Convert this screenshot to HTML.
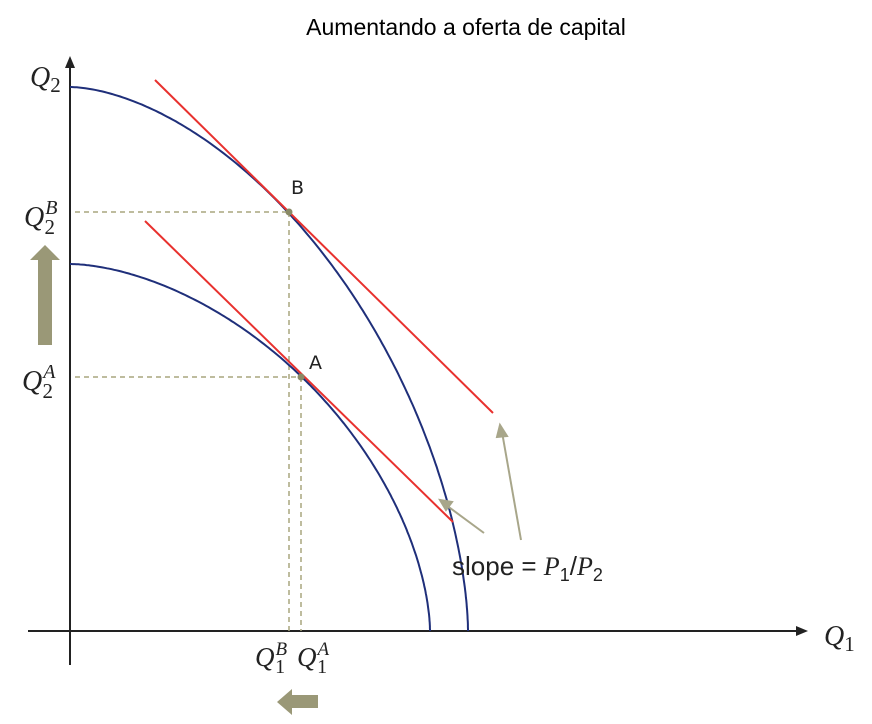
<!DOCTYPE html>
<html><head><meta charset="utf-8"><style>
body{margin:0;background:#fff;}
svg{display:block;}
.m{font-family:"Liberation Serif",serif;font-style:italic;fill:#222;}
</style></head><body>
<svg id="c" width="872" height="724" xmlns="http://www.w3.org/2000/svg">
<text x="466" y="35" text-anchor="middle" font-family="Liberation Sans, sans-serif" font-size="23" fill="#000">Aumentando a oferta de capital</text>
<g id="axes">
<line x1="70" y1="665" x2="70" y2="64" stroke="#222" stroke-width="2"/>
<polygon points="70,56 65,68 75,68" fill="#222"/>
<line x1="28" y1="631" x2="800" y2="631" stroke="#222" stroke-width="2"/>
<polygon points="808,631 796,626 796,636" fill="#222"/>
<text class="m" x="30" y="86" font-size="28">Q<tspan font-size="21" dy="6" font-style="normal">2</tspan></text>
<text class="m" x="824" y="645" font-size="28">Q<tspan font-size="21" dy="6" font-style="normal">1</tspan></text>
<text class="m" x="24" y="226" font-size="28">Q<tspan font-size="20" dx="1" dy="-12">B</tspan><tspan font-size="21" dx="-13" dy="20" font-style="normal">2</tspan></text>
<text class="m" x="22" y="390" font-size="28">Q<tspan font-size="20" dx="1" dy="-12">A</tspan><tspan font-size="21" dx="-13" dy="20" font-style="normal">2</tspan></text>
<text class="m" x="255" y="666" font-size="27">Q<tspan font-size="19" dx="1" dy="-11">B</tspan><tspan font-size="20" dx="-12" dy="18" font-style="normal">1</tspan></text>
<text class="m" x="297" y="666" font-size="27">Q<tspan font-size="19" dx="1" dy="-11">A</tspan><tspan font-size="20" dx="-12" dy="18" font-style="normal">1</tspan></text>
</g>
<g id="dash" stroke="#a8a67e" stroke-width="1.5" stroke-dasharray="5,4" fill="none"></g>
<g id="curves" fill="none" stroke="#1f2f7a" stroke-width="2"></g>
<g id="tangents" stroke="#e8312e" stroke-width="2"></g>
<g id="points"></g>
<polygon points="38,345 52,345 52,260 60,260 45,245 30,260 38,260" fill="#9a9877"/>
<polygon points="318,695 318,708 292,708 292,715 277,702 292,689 292,695" fill="#9a9877"/>
<g stroke="#a8a68a" stroke-width="2" fill="#a8a68a">
<line x1="484" y1="533" x2="446" y2="505"/><polygon points="440,500 452,502 446,510"/>
<line x1="521" y1="540" x2="502" y2="432"/><polygon points="500,425 497,437 507,436"/>
</g>
<text x="452" y="575" font-family="Liberation Sans, sans-serif" font-size="26" fill="#222">slope = <tspan class="m">P</tspan><tspan font-size="18" dy="6">1</tspan><tspan dy="-6">/</tspan><tspan class="m">P</tspan><tspan font-size="18" dy="6">2</tspan></text>
</svg>
<script>
const ox=70, oy=631;
const curveNames=["ppf-b","ppf-a"];
const q1Max=[398,360];
const q2Max=[544,367];
const curveExp=[1.7,1.72];
const pointLabels=["B","A"];
const pointQ1=[219,231];
const pointQ2=[419,254];
const tanStart=[[85,551],[75,410]];
const tanEnd=[[423,218],[383,109]];
const NS="http://www.w3.org/2000/svg";
function sx(v){return ox+v;} function sy(v){return oy-v;}
function mk(tag,attrs,parent){const e=document.createElementNS(NS,tag);for(const k in attrs)e.setAttribute(k,attrs[k]);document.getElementById(parent).appendChild(e);return e;}
for(let i=0;i<2;i++){
  let d="";
  for(let k=0;k<=200;k++){const t=k/200*Math.PI/2;
    const c=Math.cos(t),s=Math.sin(t);
    const x=q1Max[i]*Math.pow(s,2/curveExp[i]), y=q2Max[i]*Math.pow(c,2/curveExp[i]);
    d+=(k?"L":"M")+sx(x).toFixed(1)+","+sy(y).toFixed(1);}
  const p=mk("path",{d:d},"curves");
  
  
  const l=mk("line",{x1:sx(tanStart[i][0]),y1:sy(tanStart[i][1]),x2:sx(tanEnd[i][0]),y2:sy(tanEnd[i][1])},"tangents");
  
  
  const h=mk("line",{x1:75,y1:sy(pointQ2[i]),x2:sx(pointQ1[i]),y2:sy(pointQ2[i])},"dash");
  
  
  const v=mk("line",{x1:sx(pointQ1[i]),y1:sy(pointQ2[i]),x2:sx(pointQ1[i]),y2:oy},"dash");
  
  
  const c=mk("circle",{cx:sx(pointQ1[i]),cy:sy(pointQ2[i]),r:3.5,fill:"#8a8a66"},"points");
  
  
  const t=mk("text",{x:sx(pointQ1[i])+(i?8:2),y:sy(pointQ2[i])-(i?8:18),"font-family":"DejaVu Sans, sans-serif","font-size":"19",fill:"#222"},"points");
  t.textContent=pointLabels[i];
  
  
}
</script>
</body></html>
